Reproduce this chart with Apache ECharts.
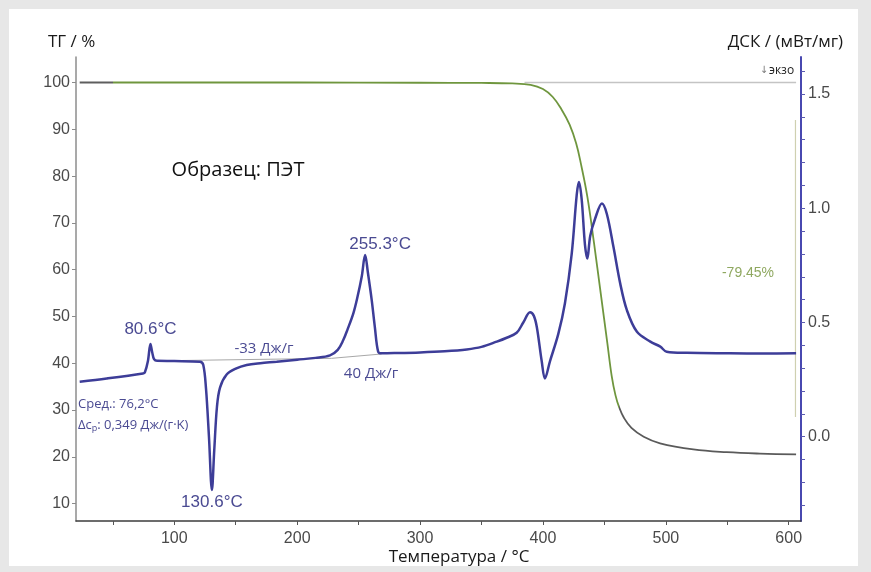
<!DOCTYPE html>
<html>
<head>
<meta charset="utf-8">
<script src="https://cdn.jsdelivr.net/npm/echarts@6/dist/echarts.min.js"></script>
<style>
  html, body { margin: 0; padding: 0; background: #e7e7e7; }
  #chart { width: 871px; height: 572px; }
</style>
</head>
<body>
<div id="chart"></div>
<script>
// Temperature axis labels and tick positions (°C)
const tempLabels = [100, 200, 300, 400, 500, 600];
const tempTicks = [50, 100, 150, 200, 250, 300, 350, 400, 450, 500, 550, 600];
// TG axis (%) labels
const tgLabels = [10, 20, 30, 40, 50, 60, 70, 80, 90, 100];
// DSC axis (mW/mg) labels and ticks
const dscLabels = [0, 0.5, 1, 1.5];
const dscTicks = [-0.3, -0.2, -0.1, 0, 0.1, 0.2, 0.3, 0.4, 0.5, 0.6, 0.7, 0.8, 0.9, 1.0, 1.1, 1.2, 1.3, 1.4, 1.5, 1.6];

// DSC curve
const dscT = [23, 45, 74.5, 76, 78.5, 80.6, 82, 83.5, 86, 100, 120.9, 123.6, 125.8, 128.2, 130.6, 132.5, 134.7, 137.2, 142.6, 150, 158.9, 170, 183.3, 200, 215, 226.7, 233, 237.5, 241, 245.7, 249, 252.5, 255.3, 257.5, 260.6, 263.2, 265.9, 268.7, 280, 300, 320, 338, 350, 362.4, 370, 378.6, 384, 389.5, 392.5, 395, 399, 401.6, 405.7, 412.5, 417.9, 423.4, 427.5, 429.3, 431.5, 434.2, 436.1, 438.5, 442.5, 448, 452, 457.4, 462.9, 468.3, 476.5, 487.4, 495.5, 500.7, 517, 552, 580, 606];
const dscV = [0.241, 0.255, 0.277, 0.281, 0.33, 0.406, 0.37, 0.34, 0.332, 0.331, 0.328, 0.314, 0.21, 0.0, -0.233, -0.06, 0.13, 0.215, 0.272, 0.298, 0.314, 0.322, 0.328, 0.337, 0.345, 0.356, 0.38, 0.423, 0.47, 0.54, 0.61, 0.70, 0.795, 0.72, 0.6, 0.48, 0.372, 0.365, 0.366, 0.369, 0.374, 0.382, 0.393, 0.416, 0.432, 0.455, 0.50, 0.545, 0.53, 0.48, 0.33, 0.255, 0.33, 0.45, 0.584, 0.80, 1.06, 1.115, 1.04, 0.84, 0.78, 0.88, 0.955, 1.021, 0.975, 0.83, 0.67, 0.554, 0.459, 0.416, 0.394, 0.372, 0.367, 0.365, 0.364, 0.365];

// Labelled DSC peaks (°C)
const peakTemps = [80.6, 130.6, 255.3];

// TG curve
const tgT = [23, 100, 200, 300, 350, 375, 390, 400, 408, 415, 421.7, 427, 431, 436.2, 441.6, 447, 452.4, 456, 459, 462, 466, 472, 482, 495.3, 522.4, 549.5, 576.6, 606];
const tgV = [100, 100, 100, 99.95, 99.9, 99.8, 99.5, 98.6, 96.9, 94.3, 91.0, 87.0, 82.5, 75.5, 65.6, 55, 44.3, 37.2, 33.2, 30.6, 28.3, 26.2, 24.3, 22.9, 21.6, 21.0, 20.7, 20.55];

// Integration baselines for the DSC effects
const baseline1 = [[86, 0.332], [228, 0.343]];
const baseline2 = [[228, 0.343], [268.7, 0.362]];
// TG step marker and reference level
const stepLevels = [92, 28.5];
const stepTemp = 605.5;
const tgRefLine = [[385, 100], [606, 100]];
const massChange = '-79.45%';

const chart = echarts.init(document.getElementById('chart'), null, { renderer: 'canvas' });

const labelFont = 'Liberation Sans, Arial, sans-serif';
const textFont = '"Open Sans", "Noto Sans", sans-serif';
const annoColor = '#4a4a92';

// Peak markers sit on the DSC points at the labelled temperatures
const peakMarks = peakTemps.map((t, k) => {
  const i = dscT.indexOf(t);
  return {
    coord: [t, dscV[i]],
    label: {
      position: k === 1 ? 'bottom' : 'top',
      distance: k === 1 ? 3 : (k === 2 ? 2 : 6),
      offset: k === 2 ? [15, 0] : [0, 0]
    }
  };
});

const option = {
  backgroundColor: '#e7e7e7',
  animation: false,
  grid: { left: 76, right: 70, top: 57, bottom: 51 },
  xAxis: {
    type: 'value',
    min: 20,
    max: 610,
    axisLine: { onZero: false, lineStyle: { color: '#3c3c3c', width: 1.5 } },
    axisTick: { show: true, length: 4, customValues: tempTicks, lineStyle: { color: '#555' } },
    axisLabel: { customValues: tempLabels, color: '#4a4a4a', fontFamily: labelFont, fontSize: 16, margin: 10 },
    splitLine: { show: false }
  },
  yAxis: [
    {
      type: 'value',
      position: 'left',
      min: 6.3,
      max: 105.45,
      axisLine: { show: true, lineStyle: { color: '#8c8c8c', width: 1.5 } },
      axisTick: { show: true, length: 4, customValues: tgLabels, lineStyle: { color: '#8c8c8c' } },
      axisLabel: { customValues: tgLabels, color: '#4a4a4a', fontFamily: labelFont, fontSize: 16, margin: 6 },
      splitLine: { show: false }
    },
    {
      type: 'value',
      position: 'right',
      min: -0.369,
      max: 1.662,
      axisLine: { show: true, lineStyle: { color: '#4848b0', width: 2 } },
      axisTick: { show: true, length: 4, customValues: dscTicks, lineStyle: { color: '#5a5ab0' } },
      axisLabel: {
        customValues: dscLabels, color: '#4a4a4a', fontFamily: labelFont, fontSize: 16, margin: 7,
        formatter: (v) => v.toFixed(1)
      },
      splitLine: { show: false }
    }
  ],
  visualMap: {
    show: false,
    type: 'piecewise',
    seriesIndex: 1,
    dimension: 0,
    pieces: [
      { lt: 50, color: '#5e5e5e' },
      { gte: 50, lt: 462, color: '#6f963e' },
      { gte: 462, color: '#5a5a5a' }
    ]
  },
  series: [
    {
      name: 'TG-ref',
      type: 'line',
      yAxisIndex: 0,
      data: tgRefLine,
      symbol: 'none',
      lineStyle: { color: '#c4c4c4', width: 1.5 },
      z: 1
    },
    {
      name: 'ТГ',
      type: 'line',
      yAxisIndex: 0,
      data: tgT.map((t, i) => [t, tgV[i]]),
      symbol: 'none',
      smooth: 0.4,
      lineStyle: { width: 1.8 },
      z: 3
    },
    {
      name: 'step',
      type: 'line',
      yAxisIndex: 0,
      data: stepLevels.map((v) => [stepTemp, v]),
      symbol: 'none',
      lineStyle: { color: '#cfd0b0', width: 1.2 },
      z: 2
    },
    {
      name: 'base1',
      type: 'line',
      yAxisIndex: 1,
      data: baseline1,
      symbol: 'none',
      lineStyle: { color: '#a8a8a8', width: 1 },
      z: 2
    },
    {
      name: 'base2',
      type: 'line',
      yAxisIndex: 1,
      data: baseline2,
      symbol: 'none',
      lineStyle: { color: '#a8a8a8', width: 1 },
      z: 2
    },
    {
      name: 'ДСК',
      type: 'line',
      yAxisIndex: 1,
      data: dscT.map((t, i) => [t, dscV[i]]),
      symbol: 'none',
      smooth: 0.35,
      lineStyle: { color: '#3d3d98', width: 2.5 },
      z: 4,
      markPoint: {
        symbol: 'rect',
        symbolSize: 1,
        itemStyle: { color: 'rgba(0,0,0,0)' },
        label: {
          show: true,
          formatter: (p) => p.data.coord[0].toFixed(1) + '°C',
          color: annoColor,
          fontFamily: labelFont,
          fontSize: 17
        },
        data: peakMarks
      }
    }
  ],
  graphic: [
    { type: 'rect', z: -10, silent: true, shape: { x: 9, y: 9, width: 849, height: 557 }, style: { fill: '#ffffff' } },
    { type: 'text', left: 48, top: 34, style: { text: 'ТГ / %', font: '17px ' + textFont, fill: '#1a1a1a' } },
    { type: 'text', right: 28, top: 34, style: { text: 'ДСК / (мВт/мг)', font: '17px ' + textFont, fill: '#1a1a1a' } },
    { type: 'text', x: 459, y: 557, style: { text: 'Температура / °C', font: '17px ' + textFont, fill: '#1a1a1a', align: 'center', verticalAlign: 'middle' } },
    { type: 'text', x: 238, y: 170, style: { text: 'Образец: ПЭТ', font: '20px ' + textFont, fill: '#111111', align: 'center', verticalAlign: 'middle' } },
    { type: 'text', x: 264, y: 349, style: { text: '-33 Дж/г', font: '15px ' + textFont, fill: annoColor, align: 'center', verticalAlign: 'middle' } },
    { type: 'text', x: 371, y: 374, style: { text: '40 Дж/г', font: '15px ' + textFont, fill: annoColor, align: 'center', verticalAlign: 'middle' } },
    { type: 'text', x: 78, y: 404, style: { text: 'Сред.: 76,2°C', font: '13px ' + textFont, fill: annoColor, verticalAlign: 'middle' } },
    {
      type: 'text', x: 78, y: 417,
      style: {
        text: 'Δc{sub|p}: 0,349 Дж/(г·K)',
        font: '13px ' + textFont, fill: annoColor,
        rich: { sub: { fontSize: 9, fontFamily: textFont, fill: annoColor, padding: [7, 0, 0, 0] } }
      }
    },
    { type: 'text', x: 748, y: 273, style: { text: massChange, font: '14px ' + labelFont, fill: '#8fa860', align: 'center', verticalAlign: 'middle' } },
    { type: 'text', x: 764, y: 70, style: { text: '↓', font: '10px DejaVu Sans', fill: '#777', align: 'center', verticalAlign: 'middle' } },
    { type: 'text', x: 769, y: 71, style: { text: 'экзо', font: '12px ' + textFont, fill: '#222', verticalAlign: 'middle' } }
  ]
};

chart.setOption(option);
</script>
</body>
</html>
